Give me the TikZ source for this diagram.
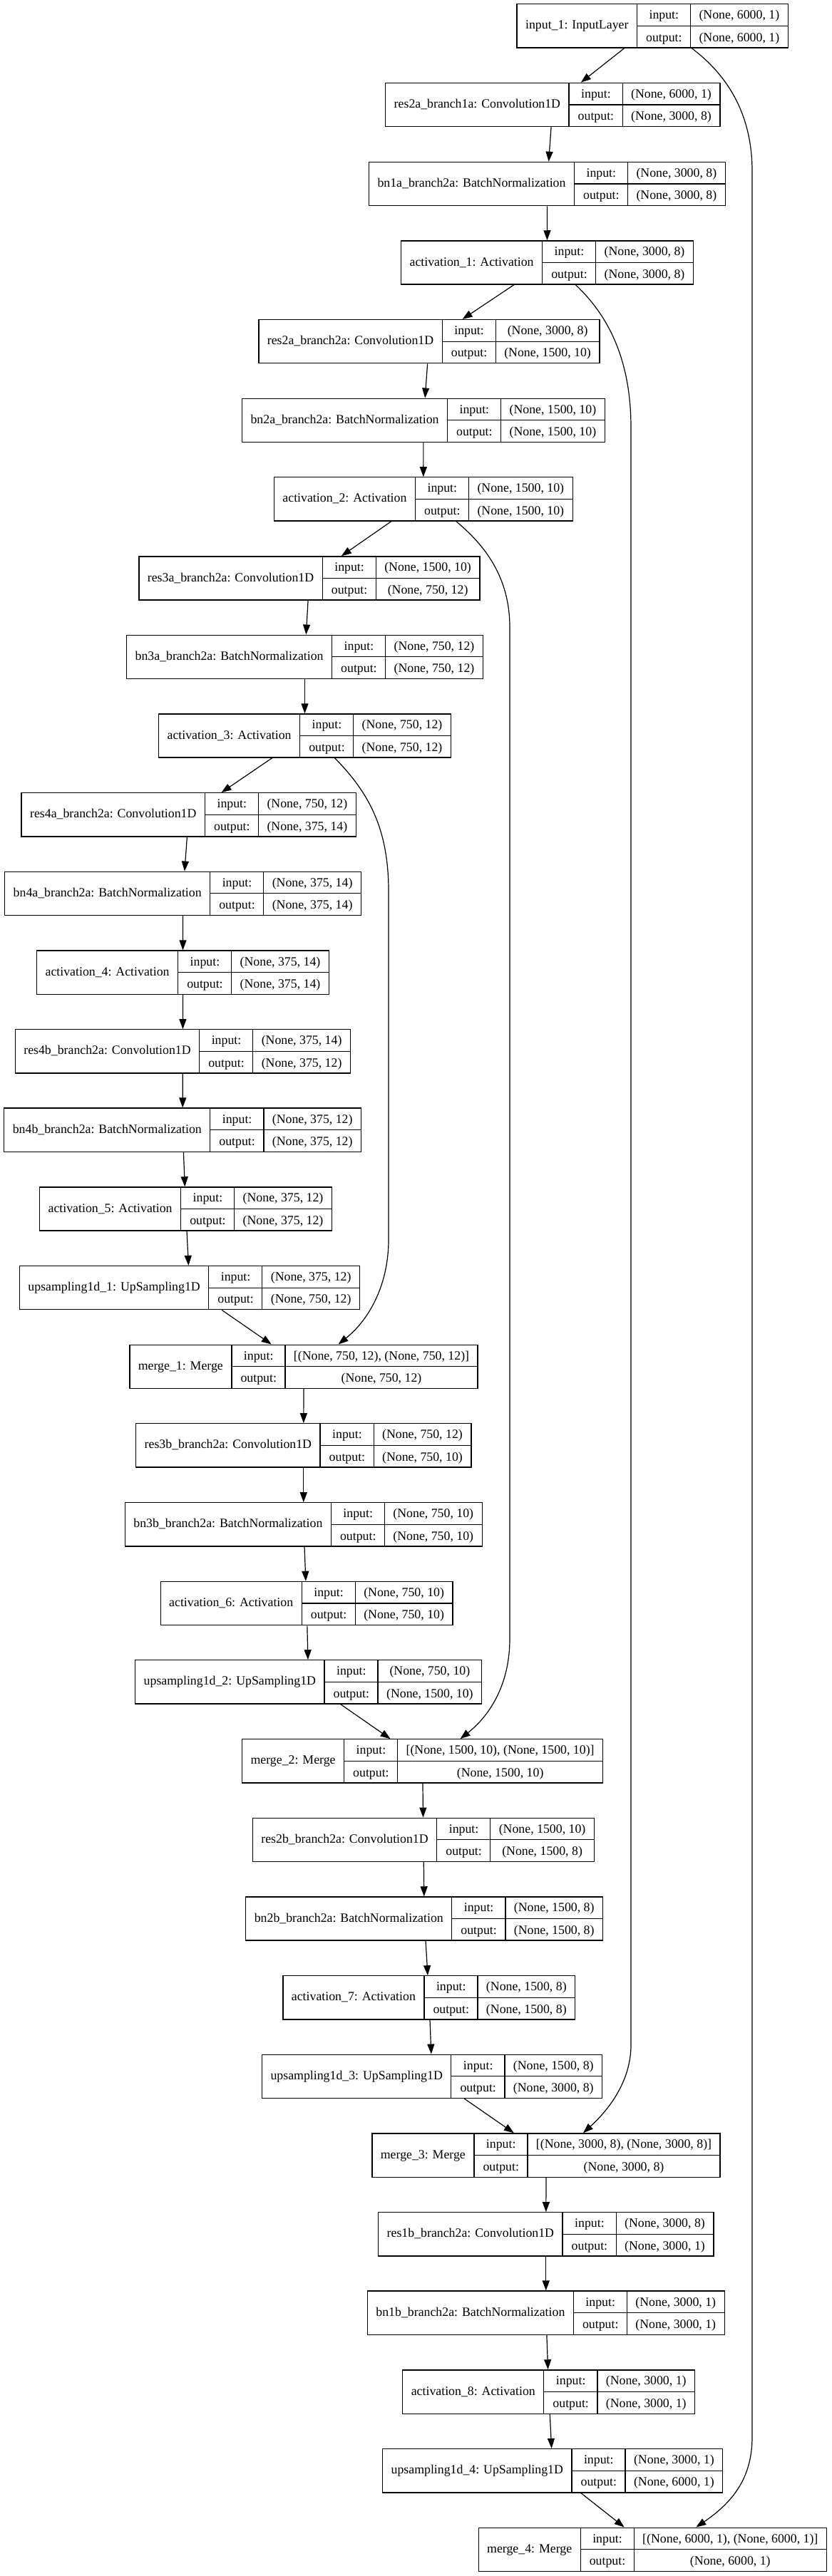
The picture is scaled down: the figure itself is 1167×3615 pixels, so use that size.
\documentclass[tikz,border=0pt]{standalone}
\usepackage{fontspec}
\setmainfont{Liberation Serif}
\usetikzlibrary{arrows.meta,calc}

\setlength{\tabcolsep}{6pt}
\setlength{\arrayrulewidth}{0.65pt}
\renewcommand{\arraystretch}{1.4}

% one keras layer: name | input:/output: | shapes
\newcommand{\layertab}[3]{\begin{tabular}{c|@{}c@{}}#1&\begin{tabular}{c|c}input:&#2\\\hline output:&#3\end{tabular}\end{tabular}}

\begin{document}
\begin{tikzpicture}[x=0.5pt,y=-0.5pt]

% definitions
\tikzstyle{layer} = [rectangle, draw=black, line width=0.65pt, inner sep=0pt, font=\fontsize{8.9}{10.7}\selectfont]

\tikzstyle{arrow} = [-{Triangle[length=7pt,width=5pt]}, line width=0.6pt]

\useasboundingbox (0,0) rectangle (1167,3615);

% the graph
\node (l0) [layer] at (915.2,36.4) {\layertab{input\_1: InputLayer}{(None, 6000, 1)}{(None, 6000, 1)}};

\node (l1) [layer] at (775.3,147) {\layertab{res2a\_branch1a: Convolution1D}{(None, 6000, 1)}{(None, 3000, 8)}};

\node (l2) [layer] at (767.4,258) {\layertab{bn1a\_branch2a: BatchNormalization}{(None, 3000, 8)}{(None, 3000, 8)}};

\node (l3) [layer] at (767.5,368.5) {\layertab{activation\_1: Activation}{(None, 3000, 8)}{(None, 3000, 8)}};

\node (l4) [layer] at (601.9,479.2) {\layertab{res2a\_branch2a: Convolution1D}{(None, 3000, 8)}{(None, 1500, 10)}};

\node (l5) [layer] at (593.9,589.8) {\layertab{bn2a\_branch2a: BatchNormalization}{(None, 1500, 10)}{(None, 1500, 10)}};

\node (l6) [layer] at (593.8,700.4) {\layertab{activation\_2: Activation}{(None, 1500, 10)}{(None, 1500, 10)}};

\node (l7) [layer] at (433.9,811.5) {\layertab{res3a\_branch2a: Convolution1D}{(None, 1500, 10)}{(None, 750, 12)}};

\node (l8) [layer] at (427.5,921.8) {\layertab{bn3a\_branch2a: BatchNormalization}{(None, 750, 12)}{(None, 750, 12)}};

\node (l9) [layer] at (427.5,1032.5) {\layertab{activation\_3: Activation}{(None, 750, 12)}{(None, 750, 12)}};

\node (l10) [layer] at (264.7,1143.4) {\layertab{res4a\_branch2a: Convolution1D}{(None, 750, 12)}{(None, 375, 14)}};

\node (l11) [layer] at (256.6,1253.8) {\layertab{bn4a\_branch2a: BatchNormalization}{(None, 375, 14)}{(None, 375, 14)}};

\node (l12) [layer] at (256.5,1364.7) {\layertab{activation\_4: Activation}{(None, 375, 14)}{(None, 375, 14)}};

\node (l13) [layer] at (256.4,1475.4) {\layertab{res4b\_branch2a: Convolution1D}{(None, 375, 14)}{(None, 375, 12)}};

\node (l14) [layer] at (256.2,1585.7) {\layertab{bn4b\_branch2a: BatchNormalization}{(None, 375, 12)}{(None, 375, 12)}};

\node (l15) [layer] at (260.5,1696.5) {\layertab{activation\_5: Activation}{(None, 375, 12)}{(None, 375, 12)}};

\node (l16) [layer] at (266,1807.2) {\layertab{upsampling1d\_1: UpSampling1D}{(None, 375, 12)}{(None, 750, 12)}};

\node (l17) [layer] at (426,1917.8) {\layertab{merge\_1: Merge}{[(None, 750, 12), (None, 750, 12)]}{(None, 750, 12)}};

\node (l18) [layer] at (425.8,2028.4) {\layertab{res3b\_branch2a: Convolution1D}{(None, 750, 12)}{(None, 750, 10)}};

\node (l19) [layer] at (425.8,2139.4) {\layertab{bn3b\_branch2a: BatchNormalization}{(None, 750, 10)}{(None, 750, 10)}};

\node (l20) [layer] at (430.1,2250) {\layertab{activation\_6: Activation}{(None, 750, 10)}{(None, 750, 10)}};

\node (l21) [layer] at (432.7,2360.4) {\layertab{upsampling1d\_2: UpSampling1D}{(None, 750, 10)}{(None, 1500, 10)}};

\node (l22) [layer] at (592.6,2471.4) {\layertab{merge\_2: Merge}{[(None, 1500, 10), (None, 1500, 10)]}{(None, 1500, 10)}};

\node (l23) [layer] at (593.9,2581.8) {\layertab{res2b\_branch2a: Convolution1D}{(None, 1500, 10)}{(None, 1500, 8)}};

\node (l24) [layer] at (595.2,2692.5) {\layertab{bn2b\_branch2a: BatchNormalization}{(None, 1500, 8)}{(None, 1500, 8)}};

\node (l25) [layer] at (601.8,2803.4) {\layertab{activation\_7: Activation}{(None, 1500, 8)}{(None, 1500, 8)}};

\node (l26) [layer] at (606.1,2913.8) {\layertab{upsampling1d\_3: UpSampling1D}{(None, 1500, 8)}{(None, 3000, 8)}};

\node (l27) [layer] at (766,3024.5) {\layertab{merge\_3: Merge}{[(None, 3000, 8), (None, 3000, 8)]}{(None, 3000, 8)}};

\node (l28) [layer] at (765.8,3135.4) {\layertab{res1b\_branch2a: Convolution1D}{(None, 3000, 8)}{(None, 3000, 1)}};

\node (l29) [layer] at (765.8,3245.7) {\layertab{bn1b\_branch2a: BatchNormalization}{(None, 3000, 1)}{(None, 3000, 1)}};

\node (l30) [layer] at (769.7,3356.5) {\layertab{activation\_8: Activation}{(None, 3000, 1)}{(None, 3000, 1)}};

\node (l31) [layer] at (775.2,3467.2) {\layertab{upsampling1d\_4: UpSampling1D}{(None, 3000, 1)}{(None, 6000, 1)}};

\node (l32) [layer] at (915.3,3577.8) {\layertab{merge\_4: Merge}{[(None, 6000, 1), (None, 6000, 1)]}{(None, 6000, 1)}};


\draw [arrow] (l0) -- (l1);
\draw [arrow] (l1) -- (l2);
\draw [arrow] (l2) -- (l3);
\draw [arrow] (l3) -- (l4);
\draw [arrow] (l4) -- (l5);
\draw [arrow] (l5) -- (l6);
\draw [arrow] (l6) -- (l7);
\draw [arrow] (l7) -- (l8);
\draw [arrow] (l8) -- (l9);
\draw [arrow] (l9) -- (l10);
\draw [arrow] (l10) -- (l11);
\draw [arrow] (l11) -- (l12);
\draw [arrow] (l12) -- (l13);
\draw [arrow] (l13) -- (l14);
\draw [arrow] (l14) -- (l15);
\draw [arrow] (l15) -- (l16);
\draw [arrow] (l16) -- (l17);
\draw [arrow] (l17) -- (l18);
\draw [arrow] (l18) -- (l19);
\draw [arrow] (l19) -- (l20);
\draw [arrow] (l20) -- (l21);
\draw [arrow] (l21) -- (l22);
\draw [arrow] (l22) -- (l23);
\draw [arrow] (l23) -- (l24);
\draw [arrow] (l24) -- (l25);
\draw [arrow] (l25) -- (l26);
\draw [arrow] (l26) -- (l27);
\draw [arrow] (l27) -- (l28);
\draw [arrow] (l28) -- (l29);
\draw [arrow] (l29) -- (l30);
\draw [arrow] (l30) -- (l31);
\draw [arrow] (l31) -- (l32);

% skip connections
\draw [arrow] ($(l0.south)+(55,0)$) .. controls (1020,105) and (1055,160) .. (1055,240) -- (1055,3420) .. controls (1055,3475) and (1030,3510) .. ($(l32.north)+(61,0)$);
\draw [arrow] ($(l3.south)+(40,0)$) .. controls (850,440) and (885,500) .. (885,600) -- (885,2870) .. controls (885,2915) and (860,2955) .. ($(l27.north)+(52,0)$);
\draw [arrow] ($(l6.south)+(46,0)$) .. controls (680,765) and (715,810) .. (715,880) -- (715,2300) .. controls (715,2360) and (690,2405) .. ($(l22.north)+(53,0)$);
\draw [arrow] ($(l9.south)+(42,0)$) .. controls (515,1110) and (545,1160) .. (545,1250) -- (545,1740) .. controls (545,1800) and (520,1850) .. ($(l17.north)+(48.5,0)$);

\end{tikzpicture}
\end{document}
